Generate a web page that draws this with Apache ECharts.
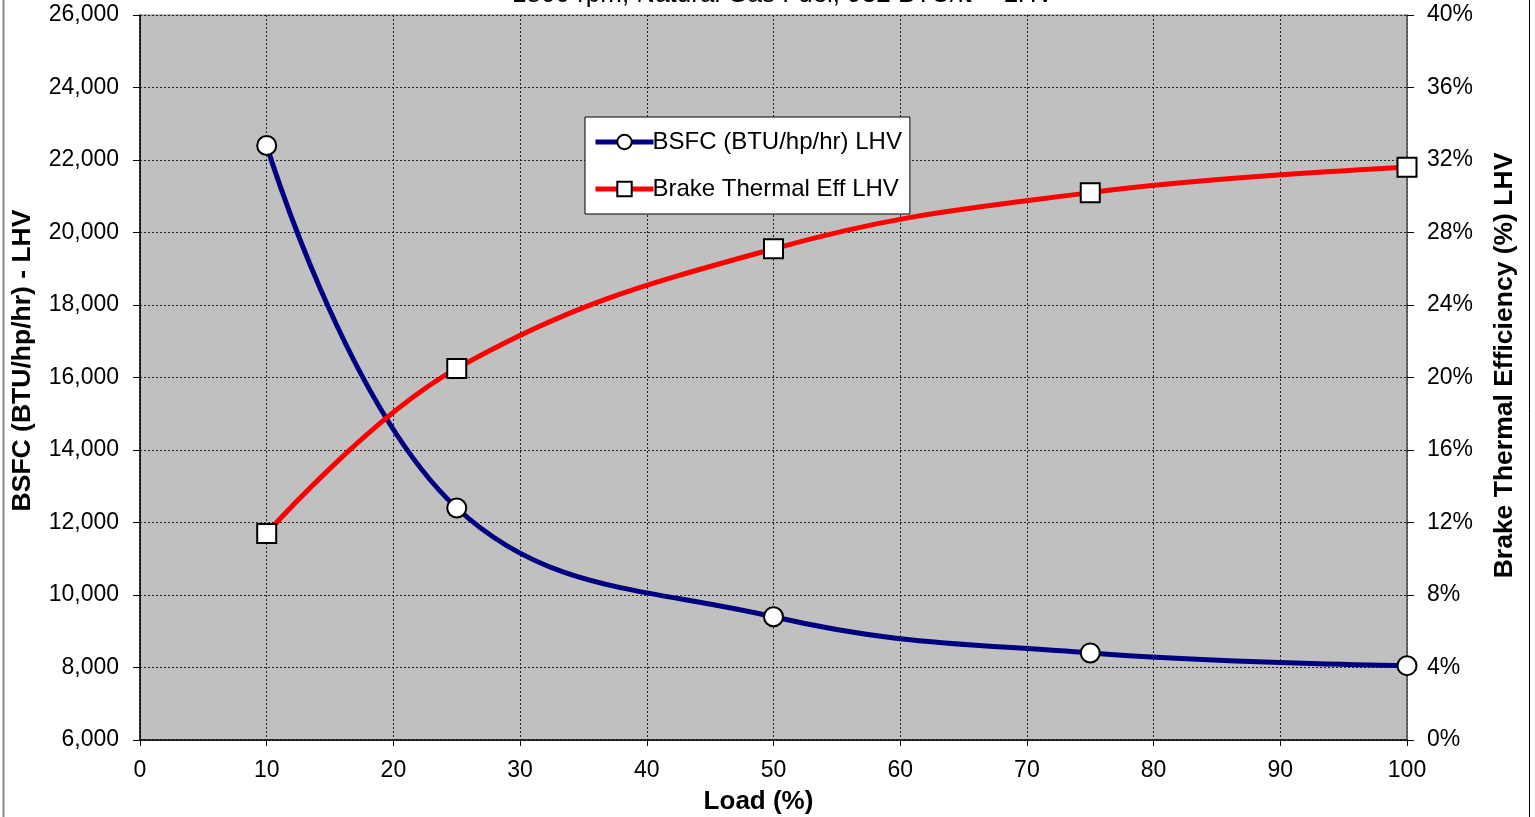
<!DOCTYPE html>
<html>
<head>
<meta charset="utf-8">
<script src="https://cdn.jsdelivr.net/npm/echarts@6/dist/echarts.min.js"></script>
<style>html,body{margin:0;padding:0;background:#fff;overflow:hidden;width:1535px;height:817px;}#c{width:1535px;height:817px;position:absolute;left:0;top:0;}</style>
</head>
<body>
<div id="c"></div>
<script>
const titleText = '1800 rpm, Natural Gas Fuel, 932 BTU/ft³ - LHV';
const loads = [10, 25, 50, 75, 100];
const bsfc = [22400, 12400, 9400, 8400, 8050];
const bte = [11.4, 20.5, 27.1, 30.2, 31.6];
const bsfcName = 'BSFC (BTU/hp/hr) LHV';
const bteName = 'Brake Thermal Eff LHV';

const chart = echarts.init(document.getElementById('c'));
const font = 'Arial, "Liberation Sans", sans-serif';
const split = {show: true, lineStyle: {color: '#222', type: [2, 2], width: 1}};
chart.setOption({
  animation: false,
  textStyle: {fontFamily: font},
  graphic: [
    {type: 'text', x: 783, y: -5, style: {text: titleText, font: '26px ' + font, fill: '#000', align: 'center', verticalAlign: 'middle'}},
    {type: 'line', shape: {x1: 3.5, y1: 0, x2: 3.5, y2: 817}, style: {stroke: '#888', lineWidth: 2}},
    {type: 'line', shape: {x1: 1529.5, y1: 0, x2: 1529.5, y2: 817}, style: {stroke: '#000', lineWidth: 1}}
  ],
  grid: {left: 140, right: 128, top: 15, bottom: 77, containLabel: false, outerBoundsMode: 'none', show: true, backgroundColor: '#C0C0C0', borderColor: '#808080', borderWidth: 1},
  legend: {
    left: 585, top: 117, orient: 'vertical',
    backgroundColor: '#fff', borderColor: '#000', borderWidth: 1,
    padding: [13, 8, 13, 8], itemGap: 23, itemWidth: 58, itemHeight: 18,
    lineStyle: {width: 5},
    textStyle: {fontSize: 24, color: '#000', fontFamily: font, padding: [0, 0, 0, -6]},
    data: [bsfcName, bteName]
  },
  xAxis: {
    type: 'value', min: 0, max: 100, interval: 10,
    name: 'Load (%)', nameLocation: 'middle', nameGap: 49,
    nameTextStyle: {fontSize: 26, fontWeight: 'bold', color: '#000', padding: [0, 30, 0, 0]},
    axisLine: {lineStyle: {color: '#000', width: 1.5}},
    axisTick: {show: true, inside: false, length: 6, lineStyle: {color: '#000'}},
    axisLabel: {fontSize: 23, color: '#000', margin: 19},
    splitLine: split
  },
  yAxis: [
    {
      type: 'value', min: 6000, max: 26000, interval: 2000, position: 'left',
      name: 'BSFC (BTU/hp/hr) - LHV', nameLocation: 'middle', nameGap: 104, nameRotate: 90,
      nameTextStyle: {fontSize: 26.5, fontWeight: 'bold', color: '#000', padding: [0, 0, 0, 34]},
      axisLine: {show: true, lineStyle: {color: '#000', width: 1.5}},
      axisTick: {show: true, length: 7, lineStyle: {color: '#000'}},
      axisLabel: {fontSize: 23, color: '#000', margin: 21, formatter: v => v.toLocaleString('en-US')},
      splitLine: split
    },
    {
      type: 'value', min: 0, max: 40, interval: 4, position: 'right',
      name: 'Brake Thermal Efficiency (%) LHV', nameLocation: 'middle', nameGap: 84, nameRotate: 90,
      nameTextStyle: {fontSize: 26.5, fontWeight: 'bold', color: '#000', padding: [0, 0, 0, 24]},
      axisLine: {show: true, lineStyle: {color: '#555', width: 1.5}},
      axisTick: {show: true, length: 7, lineStyle: {color: '#000'}},
      axisLabel: {fontSize: 23, color: '#000', margin: 20, formatter: v => v + '%'},
      splitLine: {show: false}
    }
  ],
  series: [
    {
      name: bsfcName, type: 'line', yAxisIndex: 0, smooth: 0.4,
      data: loads.map((x, i) => [x, bsfc[i]]),
      lineStyle: {color: '#000080', width: 5}, itemStyle: {color: '#fff', borderColor: '#000', borderWidth: 2},
      symbol: 'circle', symbolSize: 19, z: 3
    },
    {
      name: bteName, type: 'line', yAxisIndex: 1, smooth: 0.4,
      data: loads.map((x, i) => [x, bte[i]]),
      lineStyle: {color: '#FF0000', width: 5}, itemStyle: {color: '#fff', borderColor: '#000', borderWidth: 2},
      symbol: 'rect', symbolSize: 19, z: 3
    }
  ]
});
</script>
</body>
</html>
